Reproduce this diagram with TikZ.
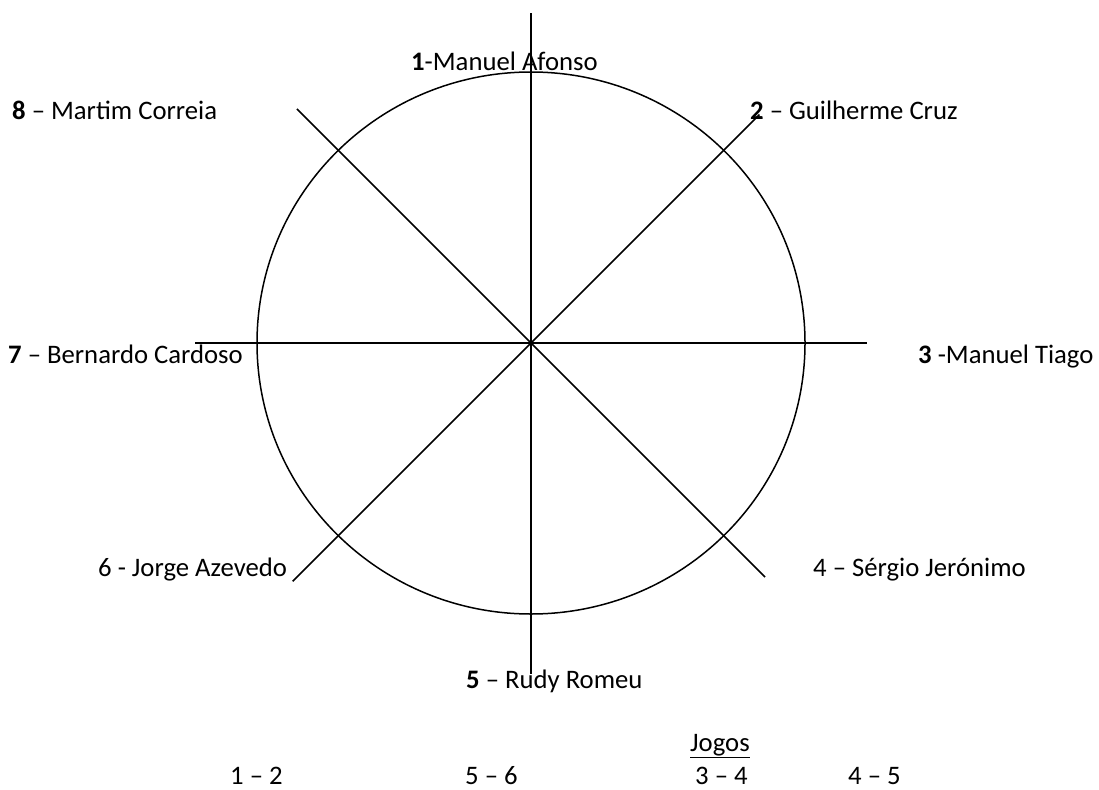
\documentclass[tikz,border=0pt]{standalone}
\usepackage{fontspec}
\setmainfont{Carlito}
\usetikzlibrary{positioning, calc}

\begin{document}
\begin{tikzpicture}[
          x=1pt, y=-1pt,
          player/.style={anchor=base west, inner sep=0pt, font=\fontsize{26.7}{32}\selectfont},
          spoke/.style={line width=1.5pt},
          game/.style={anchor=base west, inner sep=0pt, font=\fontsize{26.7}{32}\selectfont}
        ]
          \useasboundingbox (0,0) rectangle (1099,789);
          \coordinate (c) at (531,343);

          % spokes and the ring
          \foreach \d/\a/\l in {n/90/330, ne/45/323, e/0/336, se/-45/331,
                                s/-90/331, sw/-135/337, w/180/336, nw/135/331}
            \coordinate (\d) at ($(c)+(\a:\l pt)$);
          \foreach \d in {n, ne, e, se, s, sw, w, nw}
            \draw[spoke] (c) -- (\d);
          \draw[spoke] (c) ellipse [x radius=274pt, y radius=271pt];

          % players
          \node[player] (p1) at (411,71) {\textbf{1}-Manuel Afonso};
          \node[player] (p2) at (750,119) {\textbf{2} – Guilherme Cruz};
          \node[player] (p3) at (918,363) {\textbf{3} -Manuel Tiago};
          \node[player] (p4) at (813,576) {4 – Sérgio Jerónimo};
          \node[player] (p5) at (466,688) {\textbf{5} – Rudy Romeu};
          \node[player] (p6) at (98,576) {6 - Jorge Azevedo};
          \node[player] (p7) at (8,363) {\textbf{7} – Bernardo Cardoso};
          \node[player] (p8) at (12,119) {\textbf{8} – Martim Correia};

          % games
          \node[game] (jogos) at (690,751) {\underline{Jogos}};
          \node[game] (g1) at (230,784) {1 – 2};
          \node[game] (g2) at (465,784) {5 – 6};
          \node[game] (g3) at (695,784) {3 – 4};
          \node[game] (g4) at (848,784) {4 – 5};
\end{tikzpicture}
\end{document}
